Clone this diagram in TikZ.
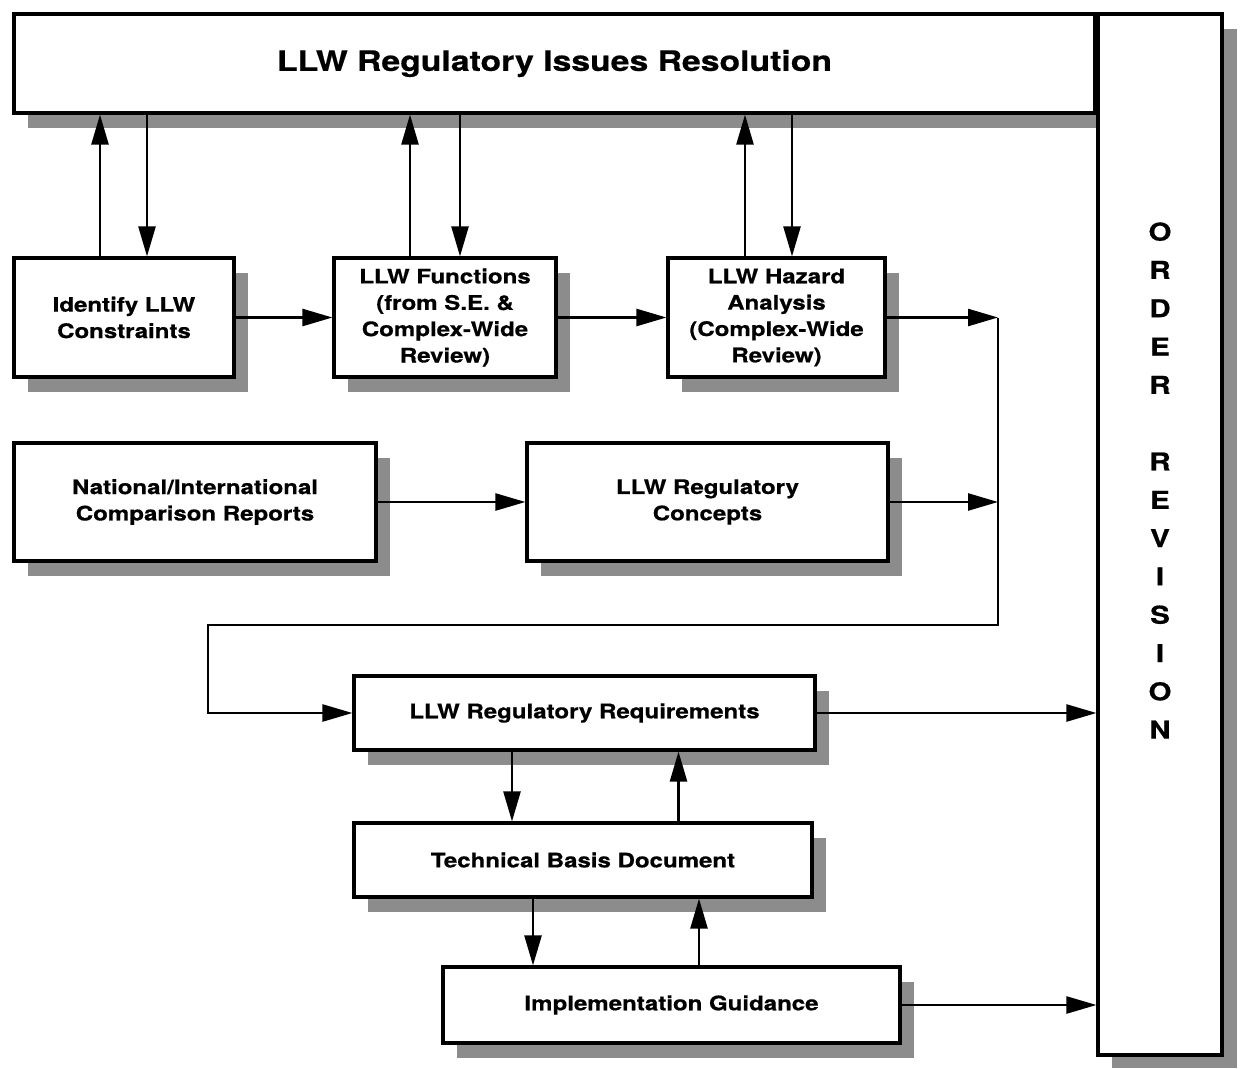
\documentclass[tikz,border=0pt]{standalone}
\usepackage{fontspec}
\setmainfont{TeX Gyre Heros}[FakeStretch=1.2,FakeBold=0.6]
\usetikzlibrary{arrows.meta,shadows}

\begin{document}
\begin{tikzpicture}
[x=0.2mm,y=-0.2mm,
 panel/.style={rectangle,draw=black,fill=white,line width=1.8pt,align=center,
   font=\fontsize{11.4}{15}\selectfont\bfseries},
 box/.style={panel,
   drop shadow={shadow xshift=2.8mm,shadow yshift=-3mm,fill=black!45,opacity=1}},
 flow/.style={line width=1.4pt,-{Triangle[length=6mm,width=3.4mm]}}]
\useasboundingbox (0,0) rectangle (1240,1068);
\node[box,minimum width=216.2mm,minimum height=19.8mm,font=\fontsize{16}{18}\selectfont\bfseries]
    (top) at (554.5,63.5) {LLW Regulatory Issues Resolution};
\node[panel,minimum width=24.8mm,minimum height=208.2mm] (order) at (1160,534.5) {};
\node[align=center,font=\fontsize{14}{21.8}\selectfont\bfseries] (ordertext) at (1160,480.5)
    {O\\R\\D\\E\\R\\[21.8pt]R\\E\\V\\I\\S\\I\\O\\N};
\node[box,minimum width=44mm,minimum height=23.8mm] (ident) at (124,317.5) {Identify LLW\\Constraints};
\node[box,minimum width=44.4mm,minimum height=23.8mm] (func) at (445,317.5)
    {LLW Functions\\(from S.E. \&\\Complex-Wide\\Review)};
\node[box,minimum width=43.4mm,minimum height=23.8mm] (hazard) at (776.5,317.5)
    {LLW Hazard\\Analysis\\(Complex-Wide\\Review)};
\node[box,minimum width=72.4mm,minimum height=23.6mm] (natl) at (195,502)
    {National/International\\Comparison Reports};
\node[box,minimum width=72.2mm,minimum height=23.6mm] (concepts) at (707.5,502)
    {LLW Regulatory\\Concepts};
\node[box,minimum width=92.2mm,minimum height=14.8mm] (reqs) at (584.5,713) {LLW Regulatory Requirements};
\node[box,minimum width=91.6mm,minimum height=14.8mm] (tbd) at (583,860) {Technical Basis Document};
\node[box,minimum width=91.4mm,minimum height=15.2mm] (impl) at (671.5,1005) {Implementation Guidance};
\coordinate (rail) at (998,625);
\coordinate (back) at (208,625);
% links with the top box
\draw[flow] ([xshift=-4.8mm]ident.north) -- ([xshift=-4.8mm]ident.north |- top.south);
\draw[flow] ([xshift=4.6mm]ident.north |- top.south) -- ([xshift=4.6mm]ident.north);
\draw[flow] ([xshift=-7mm]func.north) -- ([xshift=-7mm]func.north |- top.south);
\draw[flow] ([xshift=3mm]func.north |- top.south) -- ([xshift=3mm]func.north);
\draw[flow] ([xshift=-6.3mm]hazard.north) -- ([xshift=-6.3mm]hazard.north |- top.south);
\draw[flow] ([xshift=3.1mm]hazard.north |- top.south) -- ([xshift=3.1mm]hazard.north);
% main flow
\draw[flow] (ident) -- (func);
\draw[flow] (func) -- (hazard);
\draw[flow] (natl) -- (concepts);
\draw[flow] (hazard.east) -- (hazard.east -| rail);
\draw[flow] (concepts.east) -- (concepts.east -| rail);
\draw[flow] (hazard.east -| rail) -- (rail) -- (back) |- (reqs.west);
\draw[flow] ([xshift=-14.5mm]reqs.south) -- ([xshift=-14.5mm]reqs.south |- tbd.north);
\draw[flow] ([xshift=19.1mm]tbd.north) -- ([xshift=19.1mm]tbd.north |- reqs.south);
\draw[flow] ([xshift=-10mm]tbd.south) -- ([xshift=-10mm]tbd.south |- impl.north);
\draw[flow] ([xshift=23.2mm]impl.north -| tbd.north) -- ([xshift=23.2mm]tbd.south);
\draw[flow] (reqs.east) -- (reqs.east -| order.west);
\draw[flow] (impl.east) -- (impl.east -| order.west);
% shadow of the order box
\fill[black!45] (1224,29) rectangle (1237,1068);
\fill[black!45] (1112,1057) rectangle (1237,1068);
\end{tikzpicture}
\end{document}
